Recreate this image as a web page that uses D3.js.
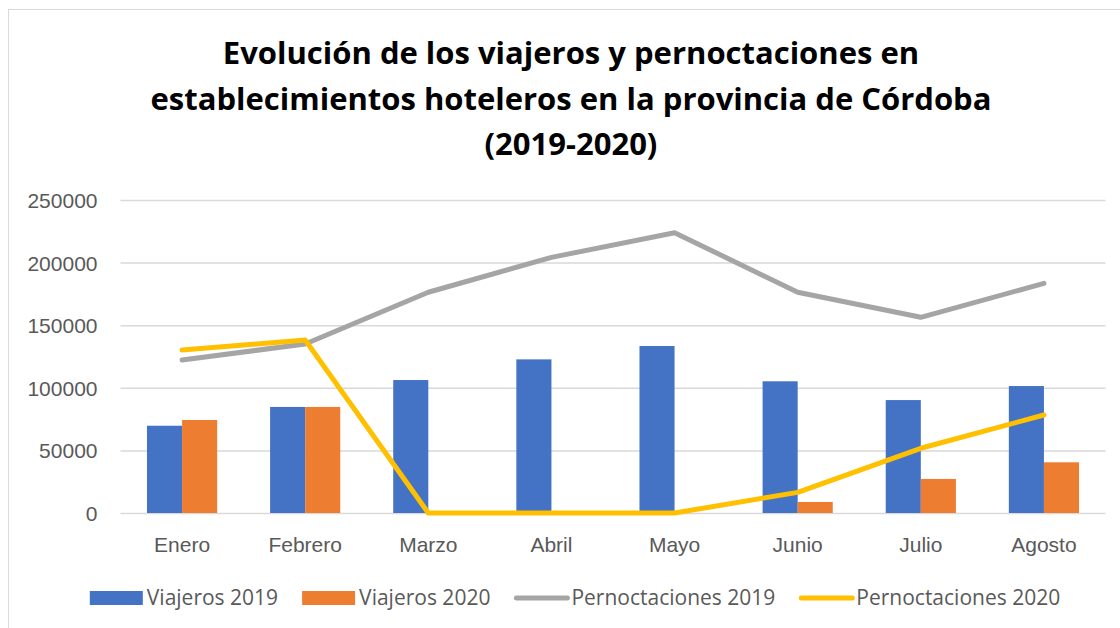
<!DOCTYPE html>
<html lang="es">
<head>
    <meta charset="UTF-8">
    <title>Evolución de los viajeros y pernoctaciones</title>
    <script src="https://d3js.org/d3.v7.min.js"></script>
    <style>
        body { margin: 0; background: #fff; }
        svg { display: block; font-family: "Open Sans", Lato, sans-serif; }
        .tick-label { font-size: 21px; fill: #595959; }
        .title { font-size: 31px; font-weight: bold; fill: #000; }
        .legend-label { font-size: 21px; fill: #595959; }
    </style>
</head>
<body>
<svg id="chart" width="1120" height="628"></svg>
<script>
    // Data
    const categories = ["Enero", "Febrero", "Marzo", "Abril", "Mayo", "Junio", "Julio", "Agosto"];
    const viajeros2019 = [69700, 84700, 106200, 122700, 133400, 105200, 90200, 101400];
    const viajeros2020 = [74300, 84700, 0, 0, 0, 8800, 27200, 40500];
    const pernoct2019 = [122200, 135000, 176300, 204200, 223900, 176300, 156300, 183400];
    const pernoct2020 = [130200, 138200, 0, 0, 0, 16500, 51700, 78300];
    const yTicks = [0, 50000, 100000, 150000, 200000, 250000];
    const titleLines = [
        "Evolución de los viajeros y pernoctaciones en",
        "establecimientos hoteleros en la provincia de Córdoba",
        "(2019-2020)"
    ];

    const barSeries = [
        { name: "Viajeros 2019", values: viajeros2019, color: "#4472C4" },
        { name: "Viajeros 2020", values: viajeros2020, color: "#ED7D31" }
    ];
    const lineSeries = [
        { name: "Pernoctaciones 2019", values: pernoct2019, color: "#A5A5A5" },
        { name: "Pernoctaciones 2020", values: pernoct2020, color: "#FFC000" }
    ];

    const svg = d3.select("#chart");

    // chart frame
    svg.append("rect")
        .attr("x", 8.5).attr("y", 9.5)
        .attr("width", 1200).attr("height", 700)
        .attr("fill", "none")
        .attr("stroke", "#d9d9d9");

    // title
    svg.append("g").selectAll("text")
        .data(titleLines)
        .join("text")
        .attr("class", "title")
        .attr("x", 571)
        .attr("y", (d, i) => 64 + i * 45.5)
        .attr("text-anchor", "middle")
        .text(d => d);

    // scales
    const x = d3.scaleBand()
        .domain(categories)
        .range([120.5, 1105.5]);

    const xInner = d3.scaleBand()
        .domain(barSeries.map(s => s.name))
        .range([0, x.bandwidth() * 0.57]);

    const y = d3.scaleLinear()
        .domain([0, 250000])
        .range([513, 200]);

    // gridlines + y labels
    const yAxis = svg.append("g")
        .attr("transform", "translate(120.5,0)")
        .call(d3.axisLeft(y).tickValues(yTicks).tickSize(-985).tickPadding(23).tickFormat(d3.format("d")));
    yAxis.select(".domain").remove();
    yAxis.selectAll(".tick line").attr("stroke", "#d9d9d9").attr("stroke-width", 1.5);
    yAxis.selectAll(".tick text")
        .attr("class", "tick-label")
        .attr("font-size", null).attr("font-family", null)
        .attr("dy", "0.36em");

    // bars
    const groupOffset = (x.bandwidth() - xInner.range()[1]) / 2;
    barSeries.forEach(s => {
        svg.append("g").selectAll("rect")
            .data(s.values)
            .join("rect")
            .attr("x", (d, i) => x(categories[i]) + groupOffset + xInner(s.name))
            .attr("y", d => y(d))
            .attr("width", xInner.bandwidth())
            .attr("height", d => y(0) - y(d))
            .attr("fill", s.color);
    });

    // lines
    const line = d3.line()
        .x((d, i) => x(categories[i]) + x.bandwidth() / 2)
        .y(d => y(d));
    lineSeries.forEach(s => {
        svg.append("path")
            .datum(s.values)
            .attr("d", line)
            .attr("fill", "none")
            .attr("stroke", s.color)
            .attr("stroke-width", 5)
            .attr("stroke-linecap", "round")
            .attr("stroke-linejoin", "round");
    });

    // x labels
    const xAxis = svg.append("g")
        .attr("transform", "translate(0,513)")
        .call(d3.axisBottom(x).tickSize(0).tickPadding(24));
    xAxis.select(".domain").remove();
    xAxis.selectAll(".tick text").attr("class", "tick-label").attr("font-size", null).attr("font-family", null);

    // legend
    const legendItems = barSeries.map(s => ({ ...s, type: "bar" }))
        .concat(lineSeries.map(s => ({ ...s, type: "line" })));
    const legend = svg.append("g");
    let cursor = 0;
    legendItems.forEach(item => {
        const g = legend.append("g").attr("transform", `translate(${cursor},0)`);
        if (item.type === "bar") {
            g.append("rect").attr("x", 0).attr("y", -7).attr("width", 53).attr("height", 14).attr("fill", item.color);
        } else {
            g.append("line").attr("x1", 2).attr("x2", 53).attr("y1", 0).attr("y2", 0)
                .attr("stroke", item.color).attr("stroke-width", 5).attr("stroke-linecap", "round");
        }
        const t = g.append("text")
            .attr("class", "legend-label")
            .attr("x", 57)
            .attr("dy", "0.35em")
            .text(item.name);
        cursor += 57 + t.node().getComputedTextLength() + 24;
    });
    cursor -= 24;
    legend.attr("transform", `translate(${575 - cursor / 2},598)`);
</script>
</body>
</html>
